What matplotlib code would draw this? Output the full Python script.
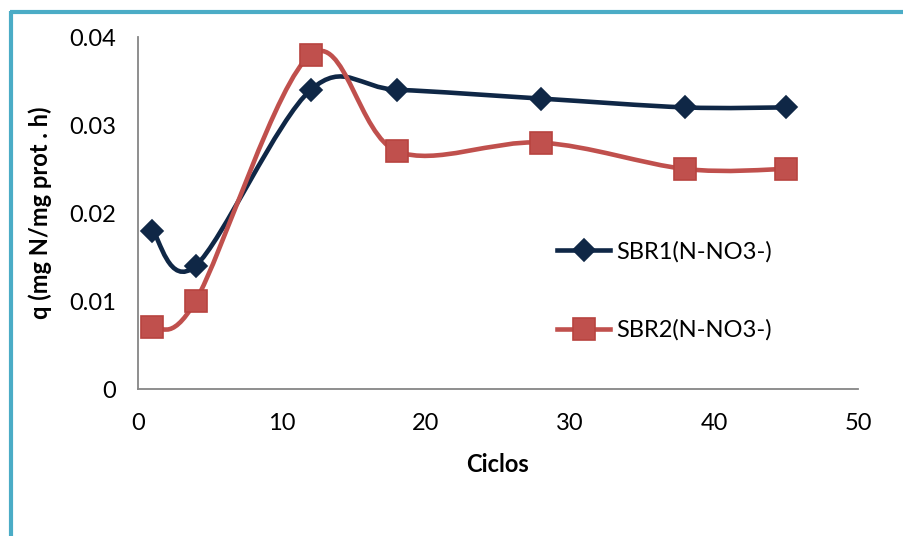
import numpy as np
import matplotlib
matplotlib.use("Agg")
import matplotlib.pyplot as plt
from matplotlib.path import Path
from matplotlib.patches import PathPatch
from matplotlib.lines import Line2D

plt.rcParams['font.family'] = ['Lato', 'DejaVu Sans']

# Cycle numbers and specific nitrate uptake rates
ciclos = [1, 4, 12, 18, 28, 38, 45]
sbr1 = [0.018, 0.014, 0.034, 0.034, 0.033, 0.032, 0.032]
sbr2 = [0.007, 0.010, 0.038, 0.027, 0.028, 0.025, 0.025]
labels = ["SBR1(N-NO3-)", "SBR2(N-NO3-)"]

x_ticks = [0, 10, 20, 30, 40, 50]
y_ticks = [0, 0.01, 0.02, 0.03, 0.04]
y_ticklabels = ["0", "0.01", "0.02", "0.03", "0.04"]

navy = "#0F2746"
red = "#C0504D"
red_edge = "#B8433F"


def smooth_path(xs, ys):
    """Catmull-Rom style cubic Bezier through the points."""
    pts = np.column_stack([xs, ys]).astype(float)
    n = len(pts)
    verts = [pts[0]]
    codes = [Path.MOVETO]
    for i in range(n - 1):
        p0 = pts[i - 1] if i > 0 else pts[i]
        p1 = pts[i]
        p2 = pts[i + 1]
        p3 = pts[i + 2] if i + 2 < n else pts[i + 1]
        c1 = p1 + (p2 - p0) / 6.0
        c2 = p2 - (p3 - p1) / 6.0
        verts += [c1, c2, p2]
        codes += [Path.CURVE4] * 3
    return Path(verts, codes)


fig = plt.figure(figsize=(9.04, 5.36), dpi=100)
ax = fig.add_axes([138 / 904, 147 / 536, 720 / 904, 352 / 536])

series = [
    (sbr1, navy, navy, "D", 11.5),
    (sbr2, red, red_edge, "s", 15.5),
]
handles = []
for vals, col, ecol, mk, ms in series:
    patch = PathPatch(smooth_path(ciclos, vals), facecolor="none",
                      edgecolor=col, lw=3.3, capstyle="round",
                      joinstyle="round", zorder=2)
    ax.add_patch(patch)
    ax.plot(ciclos, vals, linestyle="none", marker=mk, ms=ms,
            mfc=col, mec=ecol, mew=1.2, zorder=3)
    handles.append(Line2D([], [], color=col, lw=3.3, marker=mk, ms=ms,
                          mfc=col, mec=ecol, mew=1.2))

ax.set_xlim(0, 50)
ax.set_ylim(0, 0.04)
ax.set_xticks(x_ticks)
ax.set_yticks(y_ticks)
ax.set_yticklabels(y_ticklabels)
ax.tick_params(axis="both", length=0, labelsize=17, colors="black")
ax.tick_params(axis="y", pad=16)
ax.tick_params(axis="x", pad=17)

for side in ("top", "right"):
    ax.spines[side].set_visible(False)
for side in ("left", "bottom"):
    ax.spines[side].set_color("#868686")
    ax.spines[side].set_linewidth(1.3)

ax.set_xlabel("Ciclos", fontsize=17, fontweight="bold", labelpad=14)
ax.set_ylabel("q (mg N/mg prot . h)", fontsize=17, fontweight="bold",
              labelpad=12)

leg = ax.legend(handles, labels, loc="center left",
                bbox_to_anchor=(557 / 904, 1 - 291 / 536),
                bbox_transform=fig.transFigure, frameon=False,
                fontsize=17, handlelength=2.25, handletextpad=0.25,
                labelspacing=2.4, borderpad=0, borderaxespad=0)

# Teal frame around the chart area
teal = "#4BACC6"
fig.add_artist(Line2D([11 / 904, 11 / 904], [0, 1 - 11 / 536],
                      transform=fig.transFigure, color=teal, lw=3.0,
                      solid_capstyle="butt"))
fig.add_artist(Line2D([9.5 / 904, 1], [1 - 12 / 536, 1 - 12 / 536],
                      transform=fig.transFigure, color=teal, lw=3.0,
                      solid_capstyle="butt"))

fig.savefig("out.png", dpi=100)
